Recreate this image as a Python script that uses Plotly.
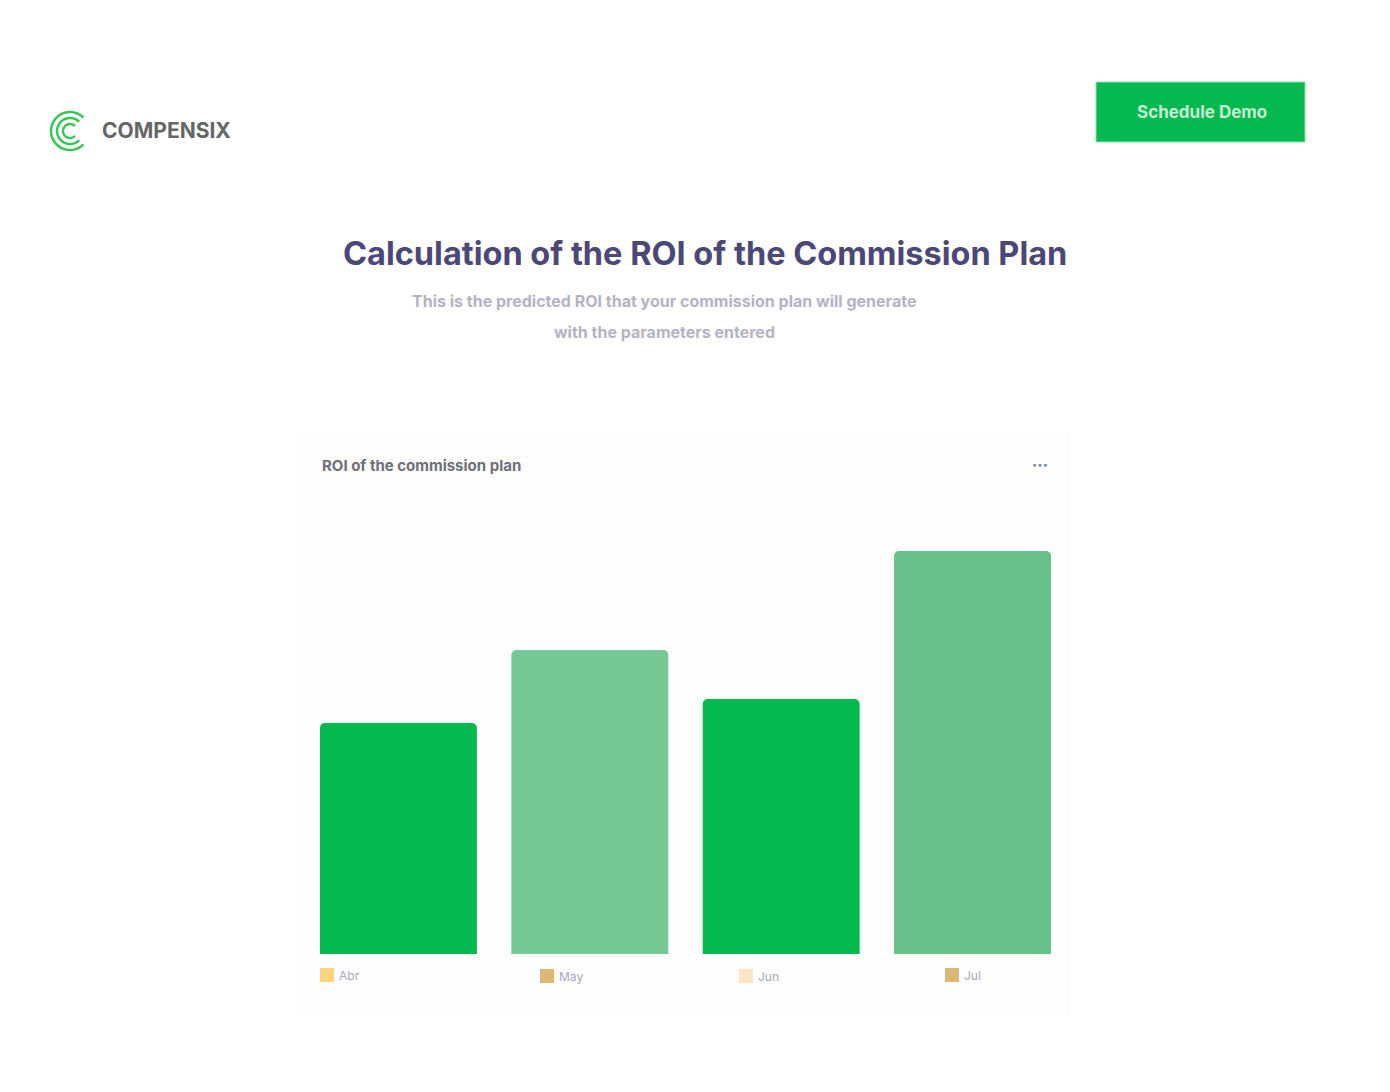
import plotly.graph_objects as go
import math

months = ["Abr", "May", "Jun", "Jul"]
roi = [231, 304, 255, 403]
bar_colors = ["#05b84f", "#76c895", "#05b84f", "#67bf8a"]
dot_colors = ["#fdd57e", "#dcb775", "#fde7c3", "#dcb775"]

W, H = 1390, 1092
OFF = 8
def px(x, y):
    return (x - OFF) / W, 1 - (y - OFF) / H

fig = go.Figure(go.Bar(x=[0, 1, 2, 3], y=roi, marker=dict(color=bar_colors, line_width=0),
                       hoverinfo="skip"))

shapes = []
x0, y0 = px(296, 432); x1, y1 = px(1070, 1018)
shapes.append(dict(type="rect", xref="paper", yref="paper", x0=x0, y0=y1, x1=x1, y1=y0,
                   fillcolor="#fdfdfd", line_width=0, layer="below"))
x0, y0 = px(1096, 82); x1, y1 = px(1305, 142)
shapes.append(dict(type="rect", xref="paper", yref="paper", x0=x0, y0=y1, x1=x1, y1=y0,
                   fillcolor="#05b84f", line=dict(color="#9be0b4", width=1)))
for r in (19, 13, 7):
    pts = []
    for i in range(41):
        a = math.radians(45 + 270 * i / 40)
        pts.append(px(70 + r * math.cos(a), 131 - r * math.sin(a)))
    path = "M " + " L ".join(f"{p[0]:.5f},{p[1]:.5f}" for p in pts)
    shapes.append(dict(type="path", xref="paper", yref="paper", path=path,
                       line=dict(color="#3cc45a", width=2.5)))

annotations = [
    dict(text="<b>COMPENSIX</b>", x=px(100, 0)[0], y=px(0, 130)[1], xanchor="left", yanchor="middle",
         font=dict(family="Inter", size=21, color="#666666")),
    dict(text="<b>Schedule Demo</b>", x=px(1202, 0)[0], y=px(0, 112)[1], xanchor="center", yanchor="middle",
         font=dict(family="Inter", size=17, color="#c3f3d1")),
    dict(text="<b>Calculation of the ROI of the Commission Plan</b>", x=px(705, 0)[0], y=px(0, 254)[1],
         xanchor="center", yanchor="middle", font=dict(family="Inter", size=32.5, color="#4b4878")),
    dict(text="<b>This is the predicted ROI that your commission plan will generate</b>", x=px(664, 0)[0],
         y=px(0, 301)[1], xanchor="center", yanchor="middle",
         font=dict(family="Inter", size=16, color="#b5b3c6")),
    dict(text="<b>with the parameters entered</b>", x=px(664, 0)[0], y=px(0, 332)[1],
         xanchor="center", yanchor="middle", font=dict(family="Inter", size=16, color="#b5b3c6")),
    dict(text="<b>ROI of the commission plan</b>", x=px(320, 0)[0], y=px(0, 465)[1], xanchor="left",
         yanchor="middle", font=dict(family="Inter", size=15, color="#6f6f7a")),
    dict(text="<b>···</b>", x=px(1040, 0)[0], y=px(0, 465)[1], xanchor="center",
         yanchor="middle", font=dict(family="Inter", size=16, color="#6b7a99")),
]
legend_x = [327, 547, 746, 952]
legend_y = [975, 976, 976, 975]
for m, c, lx, ly in zip(months, dot_colors, legend_x, legend_y):
    a, b = px(lx - 7, ly - 7); cc, d = px(lx + 7, ly + 7)
    shapes.append(dict(type="rect", xref="paper", yref="paper", x0=a, y0=d, x1=cc, y1=b,
                       fillcolor=c, line_width=0))
    annotations.append(dict(text=m, x=px(lx + 10, 0)[0], y=px(0, ly)[1], xanchor="left",
                            yanchor="middle", font=dict(family="Inter", size=12, color="#a9a8bd")))
for a in annotations:
    a.update(xref="paper", yref="paper", showarrow=False)

fig.update_layout(
    width=W, height=H, margin=dict(l=0, r=0, t=0, b=0),
    paper_bgcolor="white", plot_bgcolor="rgba(0,0,0,0)",
    bargap=0.18, barcornerradius=5, showlegend=False,
    xaxis=dict(domain=[px(320, 0)[0], px(1051, 0)[0]], range=[-0.41, 3.41], showticklabels=False,
               showgrid=False, zeroline=False, showline=False, fixedrange=True),
    yaxis=dict(domain=[px(0, 954)[1], px(0, 551)[1]], range=[0, 403], showticklabels=False,
               showgrid=False, zeroline=False, showline=False, fixedrange=True),
    shapes=shapes, annotations=annotations,
)
fig.write_html("out.html", config={"displayModeBar": False})
